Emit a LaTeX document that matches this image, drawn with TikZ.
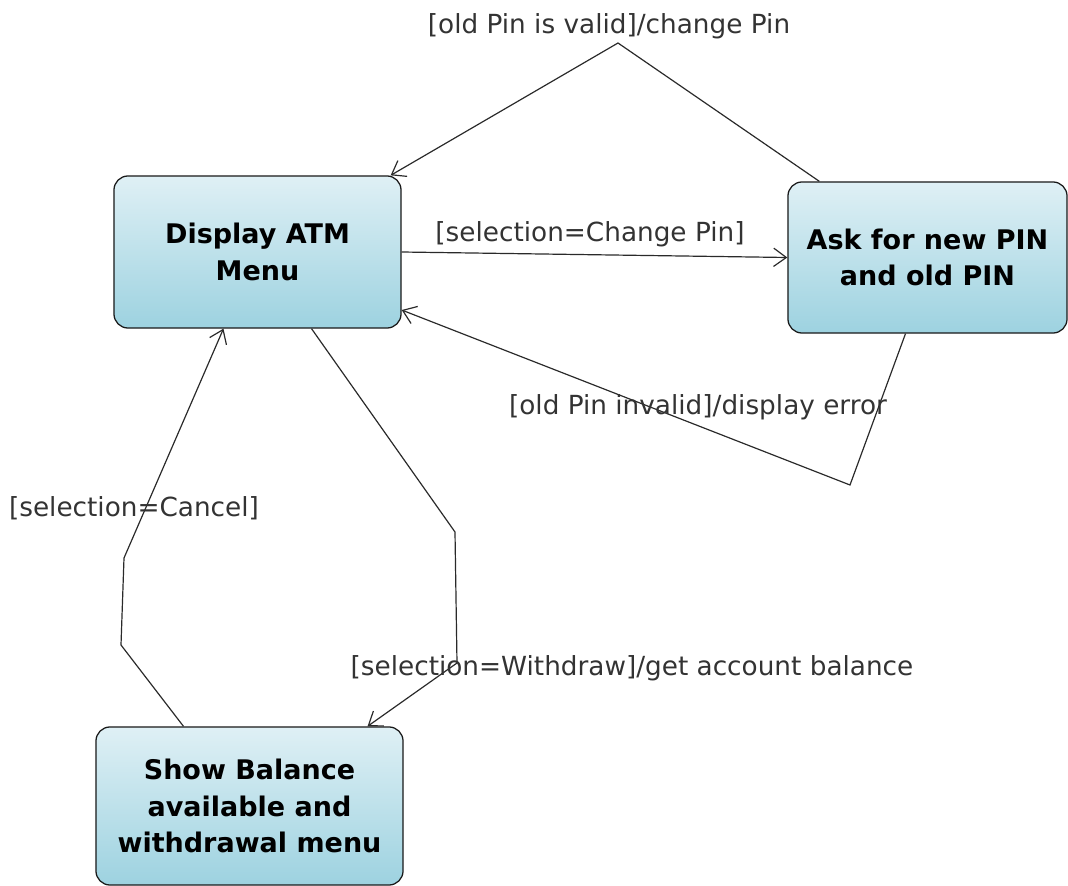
\documentclass[tikz,border=0pt]{standalone}
\usepackage{fontspec}
\setmainfont{DejaVu Sans}
\usepackage{tikz}
\usetikzlibrary{arrows.meta}
\definecolor{boxtop}{HTML}{DFF0F5}
\definecolor{boxbot}{HTML}{9DD2E0}
\definecolor{linegray}{HTML}{2A2A2A}

\begin{document}
\begin{tikzpicture}[x=0.025cm, y=-0.025cm, >={Straight Barb[length=9pt,width=13pt]},
	state/.style={draw=black!90, line width=0.9pt, rounded corners=10pt, top color=boxtop, bottom color=boxbot, align=center, inner sep=0pt, font=\fontsize{19.2}{25.8}\selectfont\bfseries},
	trans/.style={->, draw=linegray, line width=0.85pt},
	guard/.style={text=black!80, inner sep=0pt, font=\fontsize{18.7}{21}\selectfont}]
		\useasboundingbox (0,0) rectangle (1068,886);
		% states
		\node[state, minimum width=7.175cm, minimum height=3.8cm] (menu) at (257.5,252) {Display ATM\\Menu};
		\node[state, minimum width=6.975cm, minimum height=3.775cm] (newpin) at (927.5,257.5) {Ask for new PIN\\and old PIN};
		\node[state, minimum width=7.675cm, minimum height=3.95cm] (balance) at (249.5,806) {Show Balance\\available and\\withdrawal menu};
		% bends
		\coordinate (v1) at (618,43);
		\coordinate (i1) at (850,485);
		\coordinate (c1) at (121,645);
		\coordinate (c2) at (124,558);
		\coordinate (w1) at (455,532);
		\coordinate (w2) at (457,663);
		% transitions
		\draw[trans] ([xshift=0.8cm]newpin.north west) -- (v1) -- ([xshift=-0.275cm]menu.north east);
		\draw[trans] (menu.east) -- (newpin.west);
		\draw[trans] ([xshift=-0.55cm]newpin.south) -- (i1) -- ([yshift=-1.45cm]menu.east);
		\draw[trans] ([xshift=-1.65cm]balance.north) -- (c1) -- (c2) -- ([xshift=-0.85cm]menu.south);
		\draw[trans] ([xshift=1.35cm]menu.south) -- (w1) -- (w2) -- ([xshift=2.95cm]balance.north);
		% guards
		\node[guard] (lvalid) at (609,26) {[old Pin is valid]/change Pin};
		\node[guard] (lchange) at (590,234) {[selection=Change Pin]};
		\node[guard] (linvalid) at (698,407) {[old Pin invalid]/display error};
		\node[guard] (lcancel) at (134,508) {[selection=Cancel]};
		\node[guard] (lwithdraw) at (632,668) {[selection=Withdraw]/get account balance};
\end{tikzpicture}
\end{document}
